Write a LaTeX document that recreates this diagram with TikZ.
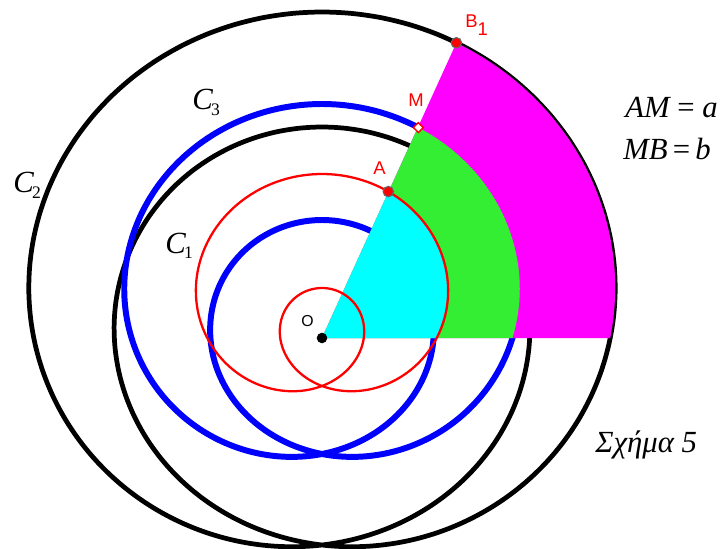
\documentclass[tikz,border=0pt]{standalone}
\usepackage{fontspec}
\setmainfont{Liberation Serif}
\setsansfont{Liberation Sans}
\usepackage{tikz}
\usetikzlibrary{calc}

\definecolor{lgreen}{RGB}{51,238,51}
\definecolor{pcyan}{RGB}{0,255,255}
\definecolor{pmagenta}{RGB}{255,0,255}
\newcommand{\csub}[1]{\kern-1pt\raisebox{-3pt}{\upshape\fontsize{10}{12}\selectfont #1}}

\tikzset{
  declare function={lx(\t,\a,\b)=1.05*(\b+\a*sin(\t))*cos(\t);
                    ly(\t,\a,\b)=(\b+\a*sin(\t))*sin(\t);},
  dot/.style={circle, fill=red, draw=black!60, line width=0.6pt, inner sep=0pt, minimum size=6pt},
  ptlabel/.style={text=red, font=\sffamily\fontsize{10.5}{12}\selectfont, inner sep=0pt, anchor=base west},
  curvelabel/.style={font=\fontsize{17.5}{20}\selectfont\itshape, inner sep=0pt, anchor=base west},
}

\begin{document}
\begin{tikzpicture}[x=0.02cm, y=0.02cm]
    \useasboundingbox (-322,-210) rectangle (405,338);
    \coordinate (O) at (0,0);

    % points on C1, C3, C2
    \coordinate (pA) at ({lx(72,155,57)}, {-48+ly(72,155,57)});
    \coordinate (pM) at ({lx(74.3,292,58)}, {-116+ly(74.3,292,58)});
    \coordinate (pB) at ({lx(75.7,475.5,57.5)}, {-207+ly(75.7,475.5,57.5)});

    % black curve C2
    \draw[line width=2.7pt] plot[domain=0:360, samples=241, smooth]
      ({lx(\x,475.5,57.5)}, {-207+ly(\x,475.5,57.5)});
    % blue curve C3
    \draw[blue, line width=3.4pt] plot[domain=0:360, samples=241, smooth]
      ({lx(\x,292,58)}, {-116+ly(\x,292,58)});

    % coloured sectors
    \begin{scope}
      \clip (O) -- (420,0) -- (420,620) -- ($(O)!2.1!(pB)$) -- cycle;
      \fill[pmagenta] plot[domain=0:360, samples=241, smooth]
        ({lx(\x,475.5,57.5)}, {-207+ly(\x,475.5,57.5)});
      \fill[lgreen] plot[domain=0:360, samples=241, smooth]
        ({lx(\x,292,58)}, {-116+ly(\x,292,58)});
      \fill[pcyan] plot[domain=0:360, samples=241, smooth]
        ({lx(\x,155,57)}, {-48+ly(\x,155,57)});
    \end{scope}

    % red curve C1
    \draw[red, line width=1.3pt] plot[domain=0:360, samples=241, smooth]
      ({lx(\x,155,57)}, {-48+ly(\x,155,57)});

    % points
    \node[circle, fill=black, inner sep=0pt, minimum size=6pt] (Odot) at (O) {};
    \node[dot] (A) at (pA) {};
    \node[draw=red, fill=white, line width=0.8pt, rotate=45, inner sep=0pt, minimum size=4pt] (M) at (pM) {};
    \node[dot] (B1) at (pB) {};

    % labels
    \node[font=\sffamily\fontsize{9}{10}\selectfont, inner sep=0pt, anchor=base west] (lO) at (-21,12) {O};
    \node[ptlabel] (lA) at (51,163) {A};
    \node[ptlabel] (lM) at (86,231) {M};
    \node[ptlabel] (lB) at (143,310) {B\raisebox{-4pt}{1}};

    \node[curvelabel] (lC1) at (-157,85) {C\csub{1}};
    \node[curvelabel] (lC2) at (-309,145) {C\csub{2}};
    \node[curvelabel] (lC3) at (-130,228) {C\csub{3}};

    \node[curvelabel] (eqa) at (303,220) {AM {\upshape =} a};
    \node[curvelabel] (eqb) at (301,178) {MB\,{\upshape =}\,b};
    \node[curvelabel] (fig) at (273,-114) {Σχήμα 5};
\end{tikzpicture}
\end{document}
